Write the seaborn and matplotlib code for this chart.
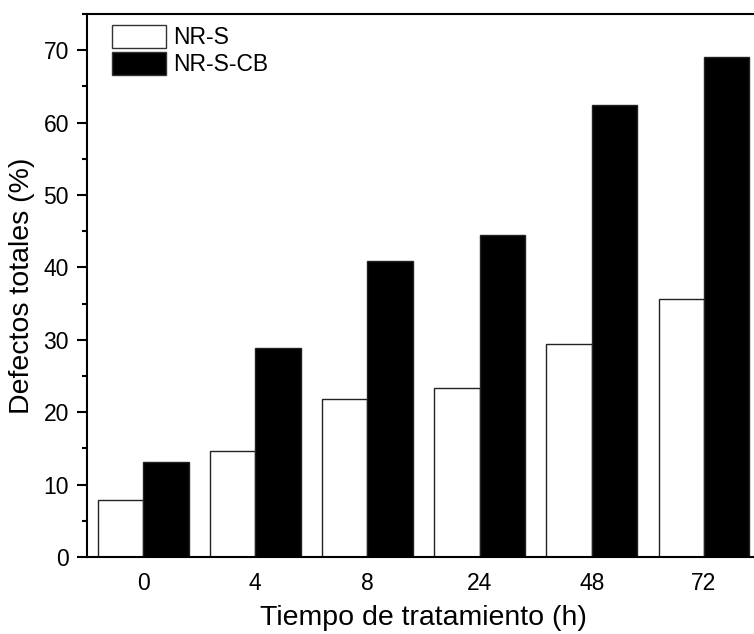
import matplotlib
matplotlib.use("Agg")
import matplotlib.pyplot as plt
from matplotlib.patches import Patch
from matplotlib.ticker import MultipleLocator
import pandas as pd
import seaborn as sns

# Treatment times (h) and total defects (%) for each sample
tiempos = ["0", "4", "8", "24", "48", "72"]
nr_s = [7.9, 14.7, 21.8, 23.4, 29.4, 35.6]
nr_s_cb = [13.1, 28.9, 40.9, 44.5, 62.5, 69.1]
series = ["NR-S", "NR-S-CB"]
colores = ["white", "black"]

df = pd.DataFrame({
    "Tiempo": tiempos * 2,
    "Defectos": nr_s + nr_s_cb,
    "Muestra": [series[0]] * len(tiempos) + [series[1]] * len(tiempos),
})

sns.set_theme(style="ticks")
plt.rcParams["font.family"] = ["Liberation Sans", "DejaVu Sans"]
plt.rcParams.update({
    "text.color": "black",
    "axes.labelcolor": "black",
    "xtick.color": "black",
    "ytick.color": "black",
})

fig = plt.figure(figsize=(7.54, 6.34), dpi=100)
ax = fig.add_axes([0.1154, 0.1215, 1.008 - 0.1154, 0.9779 - 0.1215])

sns.barplot(
    data=df, x="Tiempo", y="Defectos", hue="Muestra",
    order=tiempos, hue_order=series, palette=colores,
    width=0.81, edgecolor="#222222", linewidth=1.0,
    errorbar=None, legend=False, ax=ax,
)

ax.set_xlim(-0.5, 5.5)
ax.set_ylim(0, 75)
ax.yaxis.set_major_locator(MultipleLocator(10))
ax.yaxis.set_minor_locator(MultipleLocator(5))

for side in ["left", "bottom", "top"]:
    ax.spines[side].set_linewidth(1.5)
    ax.spines[side].set_color("black")
ax.spines["right"].set_visible(False)

ax.tick_params(axis="y", which="major", length=7, width=1.5, direction="out",
               labelsize=16.5, pad=6)
ax.tick_params(axis="y", which="minor", length=3.5, width=1.5, direction="out",
               left=True)
ax.tick_params(axis="x", length=0, labelsize=16.5, pad=11)

ax.set_xlabel("Tiempo de tratamiento (h)", fontsize=20.5, labelpad=7)
ax.set_ylabel("Defectos totales (%)", fontsize=20.5, labelpad=6)

handles = [Patch(facecolor=c, edgecolor="#333333", linewidth=1.0) for c in colores]
ax.legend(handles, series, loc="upper left", bbox_to_anchor=(0.0371, 0.980),
          frameon=False, fontsize=16.5, handlelength=2.35, handleheight=1.15,
          labelspacing=0.14, handletextpad=0.3, borderpad=0, borderaxespad=0)

fig.savefig("out.png", dpi=100, facecolor="white")
